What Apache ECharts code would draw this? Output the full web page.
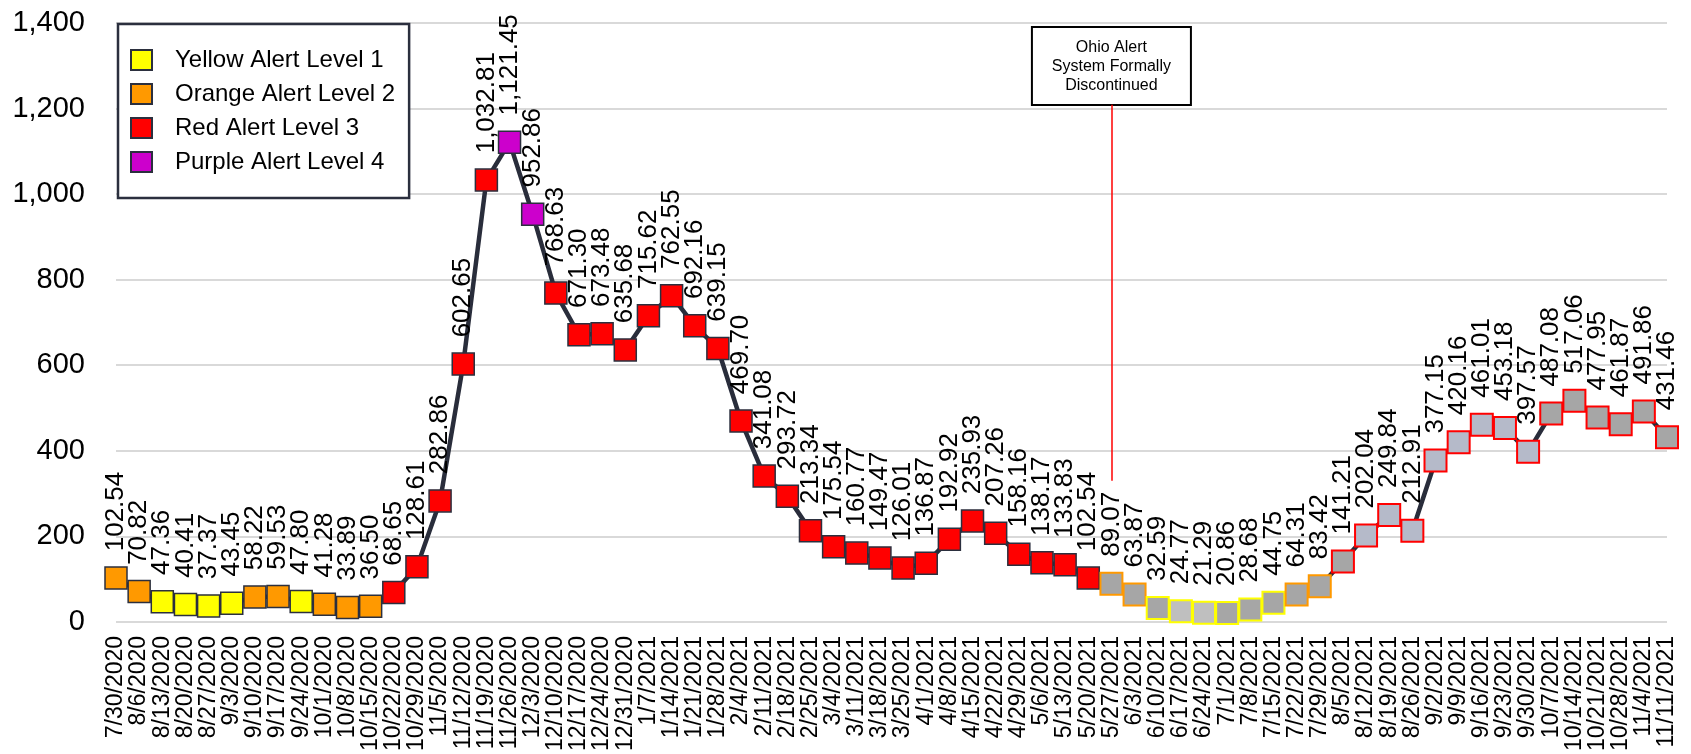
<!DOCTYPE html>
<html>
<head>
<meta charset="utf-8">
<script src="https://cdn.jsdelivr.net/npm/echarts@6/dist/echarts.min.js"></script>
<style>
  html, body { margin: 0; padding: 0; background: #fff; }
  #chart { width: 1691px; height: 754px; }
</style>
</head>
<body>
<div id="chart"></div>
<script>
// ---------------- DATA ----------------
const categories = [
  '7/30/2020','8/6/2020','8/13/2020','8/20/2020','8/27/2020','9/3/2020','9/10/2020','9/17/2020',
  '9/24/2020','10/1/2020','10/8/2020','10/15/2020','10/22/2020','10/29/2020','11/5/2020','11/12/2020',
  '11/19/2020','11/26/2020','12/3/2020','12/10/2020','12/17/2020','12/24/2020','12/31/2020',
  '1/7/2021','1/14/2021','1/21/2021','1/28/2021','2/4/2021','2/11/2021','2/18/2021','2/25/2021',
  '3/4/2021','3/11/2021','3/18/2021','3/25/2021','4/1/2021','4/8/2021','4/15/2021','4/22/2021',
  '4/29/2021','5/6/2021','5/13/2021','5/20/2021','5/27/2021','6/3/2021','6/10/2021','6/17/2021',
  '6/24/2021','7/1/2021','7/8/2021','7/15/2021','7/22/2021','7/29/2021','8/5/2021','8/12/2021',
  '8/19/2021','8/26/2021','9/2/2021','9/9/2021','9/16/2021','9/23/2021','9/30/2021','10/7/2021',
  '10/14/2021','10/21/2021','10/28/2021','11/4/2021','11/11/2021'
];
const values = [
  102.54, 70.82, 47.36, 40.41, 37.37, 43.45, 58.22, 59.53,
  47.80, 41.28, 33.89, 36.50, 68.65, 128.61, 282.86, 602.65,
  1032.81, 1121.45, 952.86, 768.63, 671.30, 673.48, 635.68,
  715.62, 762.55, 692.16, 639.15, 469.70, 341.08, 293.72, 213.34,
  175.54, 160.77, 149.47, 126.01, 136.87, 192.92, 235.93, 207.26,
  158.16, 138.17, 133.83, 102.54, 89.07, 63.87, 32.59, 24.77,
  21.29, 20.86, 28.68, 44.75, 64.31, 83.42, 141.21, 202.04,
  249.84, 212.91, 377.15, 420.16, 461.01, 453.18, 397.57, 487.08,
  517.06, 477.95, 461.87, 491.86, 431.46
];
// Alert level (1 yellow, 2 orange, 3 red, 4 purple)
const levels = [
  2,2,1,1,1,1,2,2,
  1,2,2,2,3,3,3,3,
  3,4,4,3,3,3,3,
  3,3,3,3,3,3,3,3,
  3,3,3,3,3,3,3,3,
  3,3,3,3,2,2,1,1,
  1,1,1,1,2,2,3,3,
  3,3,3,3,3,3,3,3,
  3,3,3,3,3
];
const legendNames = ['Yellow Alert Level 1','Orange Alert Level 2','Red Alert Level 3','Purple Alert Level 4'];
const yTicks = [0, 200, 400, 600, 800, 1000, 1200, 1400];
const discontinuedDate = '5/27/2021';
const discontinuedText = ['Ohio Alert', 'System Formally', 'Discontinued'];
const discontinuedLineRange = [330, 1209];

// ---------------- STYLE ----------------
const levelColors = { 1: '#ffff00', 2: '#ff9900', 3: '#ff0000', 4: '#cc00cc' };
const darkBorder = '#2b2f3e';
const FONT = '"Liberation Sans", Arial, Helvetica, sans-serif';
const discIdx = categories.indexOf(discontinuedDate);
function grayFill(i) {
  const d = categories[i];
  if (d === '6/17/2021' || d === '6/24/2021') return '#bfbfbf';
  const a = categories.indexOf('8/12/2021'), b = categories.indexOf('9/30/2021');
  if (i >= a && i <= b) return '#b5bac9';
  return '#a6a6a6';
}
function fmt(v) {
  return v.toLocaleString('en-US', { minimumFractionDigits: 2, maximumFractionDigits: 2 });
}

const seriesData = values.map((v, i) => {
  const lvl = levels[i];
  const after = i >= discIdx;
  return {
    value: v,
    itemStyle: after
      ? { color: grayFill(i), borderColor: levelColors[lvl], borderWidth: 2 }
      : { color: levelColors[lvl], borderColor: darkBorder, borderWidth: 1.5 }
  };
});

const chart = echarts.init(document.getElementById('chart'), null, { renderer: 'canvas' });

const legendSeries = legendNames.map((n, k) => ({
  name: n, type: 'line', data: [],
  itemStyle: { color: levelColors[k + 1], borderColor: darkBorder, borderWidth: 1.5 },
  lineStyle: { opacity: 0 }
}));

const option = {
  animation: false,
  backgroundColor: '#ffffff',
  textStyle: { fontFamily: FONT },
  grid: { left: 116, right: 24, top: 23, bottom: 131, containLabel: false },
  xAxis: {
    type: 'category',
    data: categories,
    boundaryGap: false,
    axisLine: { show: false },
    axisTick: { show: false },
    splitLine: { show: false },
    axisLabel: {
      interval: 0, rotate: 90, margin: 14,
      fontSize: 23, color: '#000', fontFamily: FONT
    }
  },
  yAxis: {
    type: 'value',
    min: yTicks[0], max: yTicks[yTicks.length - 1], interval: yTicks[1] - yTicks[0],
    axisLine: { show: false },
    axisTick: { show: false },
    splitLine: { show: true, lineStyle: { color: '#d9d9d9', width: 2 } },
    axisLabel: {
      margin: 31, fontSize: 29, color: '#000', fontFamily: FONT,
      formatter: v => v.toLocaleString('en-US')
    }
  },
  legend: {
    orient: 'vertical',
    left: 118, top: 24,
    padding: [24, 14, 24, 12],
    itemGap: 10,
    itemWidth: 21, itemHeight: 20,
    icon: 'rect',
    selectedMode: false,
    backgroundColor: '#ffffff',
    borderColor: darkBorder, borderWidth: 2.5, borderRadius: 0,
    textStyle: { fontSize: 24, color: '#000', fontFamily: FONT, padding: [0, 0, 0, 18] },
    data: legendNames
  },
  series: [
    {
      name: 'rate',
      type: 'line',
      data: seriesData,
      symbol: 'rect',
      symbolSize: 22,
      z: 3,
      lineStyle: { color: '#292d3b', width: 4.5 },
      label: {
        show: true,
        position: 'top',
        rotate: 90,
        align: 'left',
        verticalAlign: 'middle',
        distance: 15,
        fontSize: 26,
        color: '#000',
        fontFamily: FONT,
        formatter: p => fmt(p.value)
      },
      markLine: {
        silent: true,
        symbol: ['none', 'none'],
        label: { show: false },
        lineStyle: { color: '#ff0000', width: 1.5, type: 'solid' },
        data: [[
          { coord: [discontinuedDate, discontinuedLineRange[0]] },
          { coord: [discontinuedDate, discontinuedLineRange[1]] }
        ]]
      }
    },
    ...legendSeries
  ]
};
chart.setOption(option);

// annotation box, centred on the discontinued date's x position
const cx = chart.convertToPixel({ xAxisIndex: 0 }, discontinuedDate);
const boxW = 159, boxH = 78, boxTop = 27;
chart.setOption({
  graphic: [{
    type: 'group',
    z: 100,
    children: [
      {
        type: 'rect',
        shape: { x: cx - boxW / 2, y: boxTop, width: boxW, height: boxH },
        style: { fill: '#ffffff', stroke: '#000000', lineWidth: 2 }
      },
      {
        type: 'text',
        x: cx, y: boxTop + boxH / 2 + 1,
        style: {
          text: discontinuedText.join('\n'),
          font: '16px ' + FONT,
          fill: '#000',
          align: 'center',
          verticalAlign: 'middle',
          lineHeight: 19
        }
      }
    ]
  }]
});
</script>
</body>
</html>
